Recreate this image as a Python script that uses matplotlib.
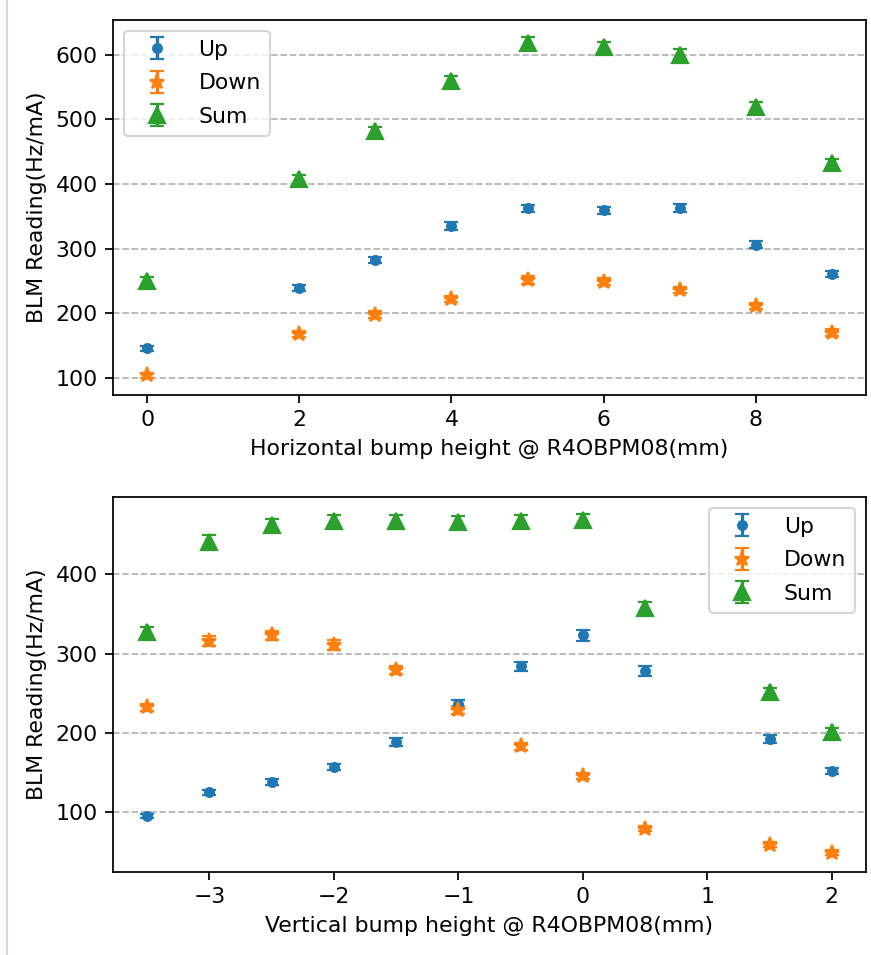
"""Plot BLM readings vs horizontal / vertical bump height."""

import matplotlib

matplotlib.use("Agg")
import matplotlib.pyplot as plt
from matplotlib.lines import Line2D

# Horizontal scan
h_pos = [0, 2, 3, 4, 5, 6, 7, 8, 9]
h_up = [146, 239, 282, 335, 362, 359, 363, 306, 261]
h_up_err = [4, 5, 5, 6, 6, 6, 6, 5, 5]
h_down = [104, 168, 198, 222, 251, 249, 236, 211, 170]
h_down_err = [4, 5, 5, 5, 6, 5, 5, 5, 5]
h_sum = [250, 407, 481, 559, 618, 611, 600, 519, 432]
h_sum_err = [6, 7, 7, 8, 9, 8, 8, 7, 7]

# Vertical scan
v_pos = [-3.5, -3, -2.5, -2, -1.5, -1, -0.5, 0, 0.5, 1.5, 2]
v_up = [95, 125, 138, 157, 189, 236, 284, 323, 278, 192, 152]
v_up_err = [3, 3, 4, 4, 5, 6, 6, 7, 6, 5, 4]
v_down = [232, 316, 323, 311, 279, 229, 183, 146, 79, 59, 49]
v_down_err = [5, 6, 6, 6, 5, 5, 4, 4, 3, 3, 3]
v_sum = [327, 441, 462, 467, 467, 466, 467, 468, 358, 251, 201]
v_sum_err = [7, 8, 8, 8, 8, 8, 8, 8, 7, 6, 5]

DPI = 158
fig = plt.figure(figsize=(871 / DPI, 955 / DPI), dpi=DPI)

ax1 = fig.add_axes([113 / 871, 1 - 395 / 955, (866 - 113) / 871, (395 - 20) / 955])
ax2 = fig.add_axes([113 / 871, 1 - 872 / 955, (866 - 113) / 871, (872 - 497) / 955])


def draw(ax, x, up, up_err, down, down_err, total, total_err, xlabel, loc):
    ax.errorbar(x, up, yerr=up_err, fmt="o", color="C0", capsize=3,
                markersize=4, label="Up")
    ax.errorbar(x, down, yerr=down_err, fmt="*", color="C1", capsize=3,
                markersize=7, label="Down")
    ax.errorbar(x, total, yerr=total_err, fmt="^", color="C2", capsize=3,
                markersize=7.5, label="Sum")
    ax.set_xlabel(xlabel)
    ax.set_ylabel("BLM Reading(Hz/mA)")
    ax.yaxis.grid(True, linestyle="--", color="0.7")
    ax.set_axisbelow(True)
    ax.legend(loc=loc, labelspacing=0.62, handlelength=2.2)


draw(ax1, h_pos, h_up, h_up_err, h_down, h_down_err, h_sum, h_sum_err,
     "Horizontal bump height @ R4OBPM08(mm)", "upper left")
ax1.set_yticks([100, 200, 300, 400, 500, 600])

draw(ax2, v_pos, v_up, v_up_err, v_down, v_down_err, v_sum, v_sum_err,
     "Vertical bump height @ R4OBPM08(mm)", "upper right")
ax2.set_yticks([100, 200, 300, 400])

# thin grey border on the left of the screenshot
fig.add_artist(Line2D([7.5 / 871, 7.5 / 871], [0, 1], color="0.85", linewidth=1))

fig.savefig("out.png", dpi=DPI)
